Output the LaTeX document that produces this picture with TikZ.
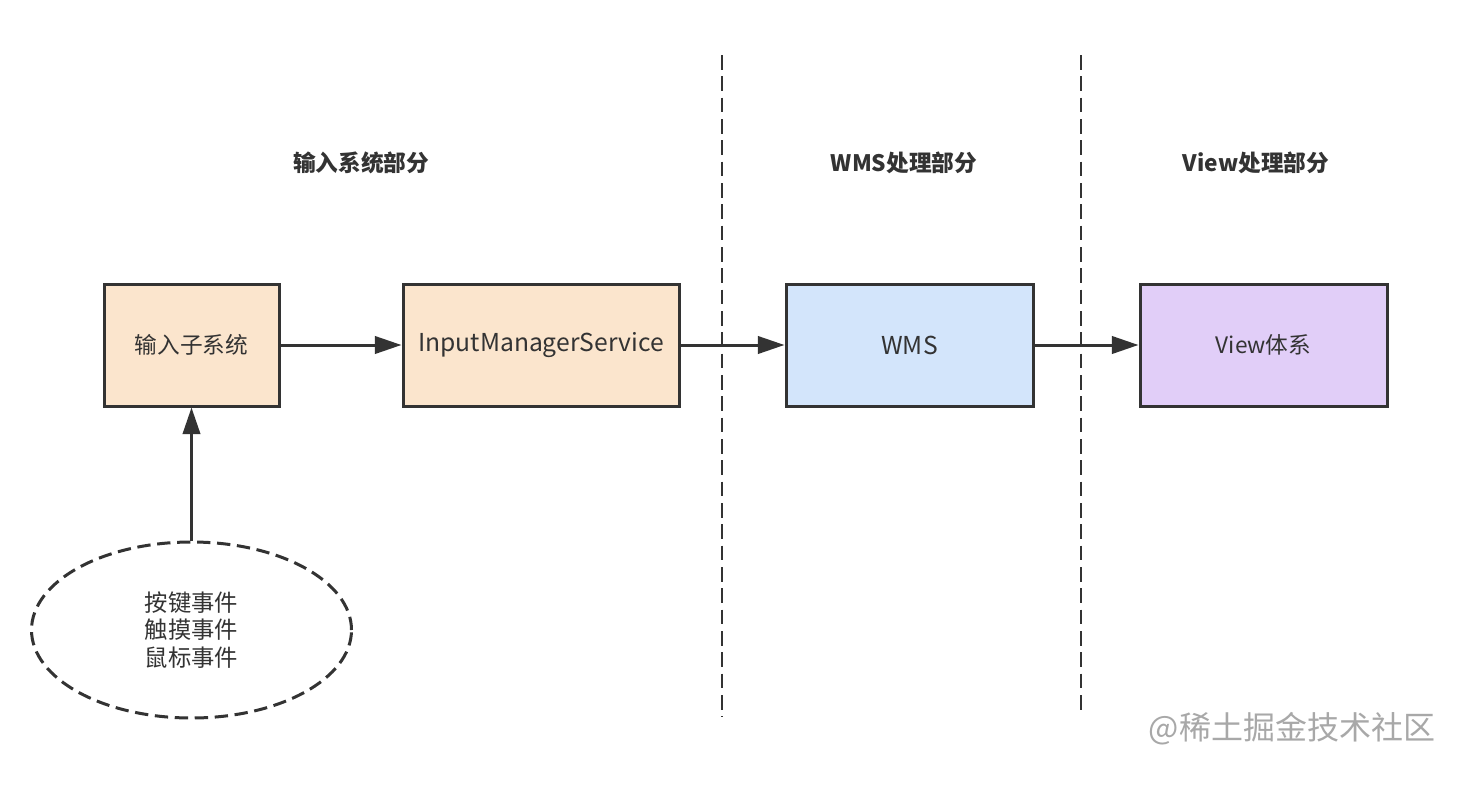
\documentclass[tikz,border=0pt]{standalone}
\usepackage{fontspec}
\setmainfont{Noto Sans CJK SC}
\usetikzlibrary{arrows.meta,shapes.geometric}
\definecolor{edge}{HTML}{333333}
\definecolor{txt}{HTML}{333333}
\definecolor{peach}{HTML}{FBE5CD}
\definecolor{skyb}{HTML}{D3E5FB}
\definecolor{lilac}{HTML}{E1CEF8}
\definecolor{wmark}{HTML}{A8A8A8}
\tikzset{
  procbox/.style={draw=edge, line width=2.25pt, inner sep=0pt, text=txt,
    minimum height=91.5pt, font=\fontsize{17pt}{20pt}\selectfont},
  evellipse/.style={ellipse, draw=edge, line width=2.25pt, dash pattern=on 10pt off 5pt,
    inner sep=0pt, minimum width=240pt, minimum height=132pt, text=txt, align=center,
    font=\fontsize{17.5pt}{20.5pt}\selectfont},
  flow/.style={draw=edge, line width=2.25pt, -{Triangle[length=20pt,width=13pt]}},
  sep/.style={draw=edge, line width=2pt, dash pattern=on 11pt off 5pt},
  title/.style={text=txt, font=\bfseries\fontsize{17pt}{20pt}\selectfont},
}
\begin{document}
\begin{tikzpicture}[x=0.75pt,y=-0.75pt]
\useasboundingbox[fill=white] (0,0) rectangle (1464,796);
% separators
\coordinate (s1t) at (722,55); \coordinate (s1b) at (722,717);
\coordinate (s2t) at (1081,55); \coordinate (s2b) at (1081,710);
\draw[sep] (s1t) -- (s1b);
\draw[sep] (s2t) -- (s2b);
% titles
\node[title] (t1) at (361,163) {输入系统部分};
\node[title] (t2) at (904,163) {WMS处理部分};
\node[title] (t3) at (1256,163) {View处理部分};
% boxes
\node[procbox, fill=peach, minimum width=131.25pt] (sub) at (191.5,345) {输入子系统};
\node[procbox, fill=peach, minimum width=207pt] (ims) at (541,345) {\fontsize{18.5pt}{20pt}\selectfont InputManagerService};
\node[procbox, fill=skyb, minimum width=185.25pt] (wms) at (909.5,345) {\fontsize{18.5pt}{20pt}\selectfont WMS};
\node[procbox, fill=lilac, minimum width=185.25pt] (view) at (1263.5,345) {View体系};
% ellipse
\node[evellipse] (ev) at (191.5,630) {按键事件\\触摸事件\\鼠标事件};
% connectors
\draw[flow] (sub) -- (ims);
\draw[flow] (ims) -- (wms);
\draw[flow] (wms) -- (view);
\draw[flow] (ev) -- (sub);
% watermark
\node[text=wmark, font=\fontsize{24pt}{28pt}\selectfont] (wm) at (1292,729) {@稀土掘金技术社区};
\end{tikzpicture}
\end{document}
